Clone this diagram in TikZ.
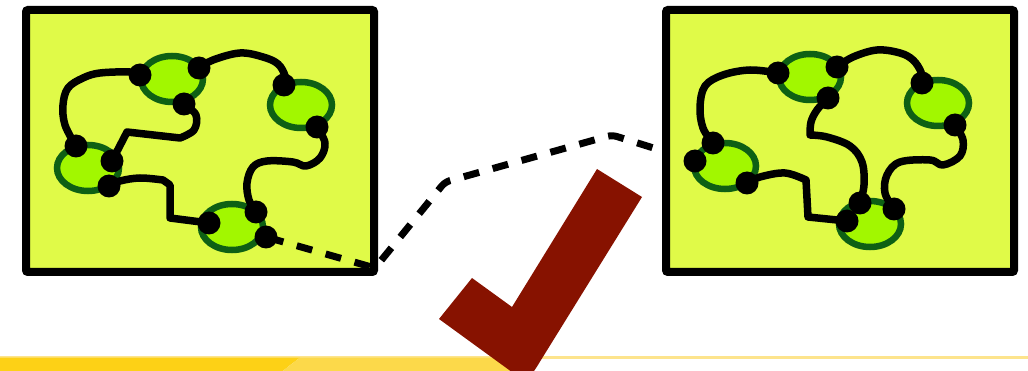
\documentclass[tikz,border=0pt]{standalone}
\usetikzlibrary{shapes.geometric}
\definecolor{boxfill}{RGB}{224,250,72}
\definecolor{cellfill}{RGB}{162,247,0}
\definecolor{celledge}{RGB}{14,96,20}
\definecolor{checkred}{RGB}{135,18,0}
\definecolor{bardark}{RGB}{253,209,22}
\definecolor{barlight}{RGB}{252,217,74}
\definecolor{barline}{RGB}{253,228,140}
\tikzset{
  panel/.style={draw=black, line width=8pt, fill=boxfill, rounded corners=2pt,
    minimum width=348pt, minimum height=262pt, inner sep=0pt},
  cell/.style={ellipse, draw=celledge, line width=6.5pt, fill=cellfill,
    minimum width=62pt, minimum height=46pt, inner sep=0pt},
  wire/.style={draw=black, line width=7.5pt, line cap=round, line join=round},
  dashline/.style={draw=black, line width=7pt, dash pattern=on 16pt off 14pt,
    dash phase=28pt, rounded corners=5pt},
  dot/.style={fill=black}
}
\begin{document}
\begin{tikzpicture}[x=1pt,y=-1pt]
\useasboundingbox (0,0) rectangle (1028,371);
\clip (0,0) rectangle (1028,371);
% bottom bar
\fill[barline] (0,355.5) rectangle (1028,358.5);
\fill[bardark] (0,357.5) -- (300,357.5) -- (282,371.5) -- (0,371.5) -- cycle;
\fill[barlight] (300,357.5) -- (530,357.5) -- (530,371.5) -- (282,371.5) -- cycle;
% dot positions
\coordinate (lA) at (140,75);
\coordinate (lB) at (199,68);
\coordinate (lC) at (184,104);
\coordinate (lD) at (284,85);
\coordinate (lE) at (317,127);
\coordinate (lF) at (76,146);
\coordinate (lG) at (112,161);
\coordinate (lH) at (109,186);
\coordinate (lI) at (209,223);
\coordinate (lJ) at (256,212);
\coordinate (lK) at (266,237);
\coordinate (rA) at (778,73);
\coordinate (rB) at (837,67);
\coordinate (rC) at (828,98);
\coordinate (rD) at (922,83);
\coordinate (rE) at (955,125);
\coordinate (rF) at (713,143);
\coordinate (rG) at (695,161);
\coordinate (rH) at (747,183);
\coordinate (rI) at (847,221);
\coordinate (rJ) at (860,203);
\coordinate (rK) at (894,209);
% left panel
\node[panel] (lbox) at (200,141) {};
\node[cell] (lc1) at (172,79) {};
\node[cell] (lc2) at (301,105) {};
\node[cell] (lc3) at (88,168) {};
\node[cell] (lc4) at (232,227) {};
\draw[wire] plot[smooth,tension=0.6] coordinates {(lA) (130,72) (100,73) (83,78) (68,88) (63,105) (65,125) (lF)};
\draw[wire] plot[smooth,tension=0.6] coordinates {(lB) (213,60) (240,53) (263,57) (278,64) (285,76) (lD)};
\draw[wire] plot[smooth,tension=0.6] coordinates {(lC) (196,115) (194,130) (180,138)} -- (127,132) -- (lG);
\draw[wire] plot[smooth,tension=0.6] coordinates {(lE) (325,143) (320,158) (306,166) (293,162) (267,161) (253,167) (247,183) (249,200) (lJ)};
\draw[wire] plot[smooth,tension=0.6] coordinates {(lH) (120,181) (140,178) (163,180)} -- (170,185) -- (170,218) -- (lI);
% dashed connector
\draw[dashline] (lK) -- (375,268) -- (445,182) -- (612,135) -- (rG);
\foreach \d in {lA,lB,lC,lD,lE,lF,lG,lH,lI,lJ,lK} \fill[dot] (\d) circle (11.5);
% right panel
\node[panel] (rbox) at (840,141) {};
\node[cell] (rc1) at (810,77) {};
\node[cell] (rc2) at (938,103) {};
\node[cell] (rc3) at (725,166) {};
\node[cell] (rc4) at (870,224) {};
\draw[wire] plot[smooth,tension=0.6] coordinates {(rA) (750,70) (723,75) (705,86) (700,107) (703,128) (rF)};
\draw[wire] plot[smooth,tension=0.6] coordinates {(rB) (853,57) (877,50) (900,53) (913,60) (921,72) (rD)};
\draw[wire] plot[smooth,tension=0.6] coordinates {(rC) (817,110) (811,122) (810,135)}
  plot[smooth,tension=0.6] coordinates {(810,135) (827,137) (850,146) (862,162) (864,185) (rJ)};
\draw[wire] plot[smooth,tension=0.6] coordinates {(rE) (963,140) (960,156) (943,165) (930,160) (900,162) (887,175) (885,193) (rK)};
\draw[wire] plot[smooth,tension=0.6] coordinates {(rH) (760,177) (785,173) (806,180)} -- (808,217) -- (rI);
\foreach \d in {rA,rB,rC,rD,rE,rF,rG,rH,rJ,rI,rK} \fill[dot] (\d) circle (11.5);
% check mark
\fill[checkred] (439,319) -- (472,278) -- (512,307) -- (597,169) -- (642,197) -- (541,360)
  .. controls (527,383) .. (505,367) -- cycle;
\end{tikzpicture}
\end{document}
